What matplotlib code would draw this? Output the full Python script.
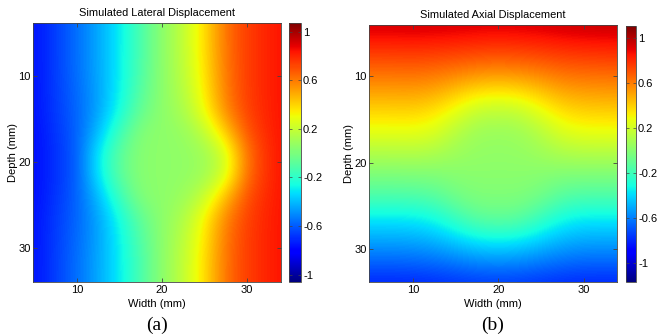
import numpy as np
import matplotlib
matplotlib.use("Agg")
import matplotlib.pyplot as plt

plt.rcParams['font.family'] = ['Liberation Sans', 'DejaVu Sans']
plt.rcParams['axes.unicode_minus'] = False

# grid nodes (mm)
width_mm = [5, 7.5, 10, 12.5, 15, 17.5, 20, 22.5, 25, 27.5, 30, 32.5, 35]
depth_mm = [4, 6.5, 9, 11.5, 14, 16.5, 19, 21.5, 24, 26.5, 29, 31.5, 34]

# Simulated lateral displacement (rows = depth, cols = width)
lateral = [
    [-0.76, -0.66, -0.56, -0.44, -0.30, -0.12, 0.05, 0.18, 0.37, 0.62, 0.74, 0.80, 0.85],
    [-0.76, -0.66, -0.56, -0.44, -0.30, -0.12, 0.05, 0.18, 0.37, 0.62, 0.74, 0.80, 0.85],
    [-0.76, -0.66, -0.56, -0.44, -0.30, -0.11, 0.05, 0.17, 0.36, 0.61, 0.74, 0.80, 0.85],
    [-0.76, -0.665, -0.57, -0.45, -0.29, -0.09, 0.05, 0.15, 0.34, 0.60, 0.74, 0.80, 0.85],
    [-0.76, -0.67, -0.58, -0.45, -0.26, -0.05, 0.05, 0.12, 0.30, 0.57, 0.73, 0.80, 0.85],
    [-0.77, -0.68, -0.59, -0.40, -0.15, 0.03, 0.05, 0.07, 0.17, 0.42, 0.69, 0.79, 0.85],
    [-0.77, -0.69, -0.60, -0.30, -0.07, 0.04, 0.05, 0.06, 0.09, 0.22, 0.62, 0.78, 0.85],
    [-0.77, -0.69, -0.60, -0.31, -0.07, 0.04, 0.05, 0.06, 0.09, 0.23, 0.63, 0.78, 0.85],
    [-0.77, -0.68, -0.59, -0.40, -0.16, 0.03, 0.05, 0.08, 0.19, 0.45, 0.70, 0.79, 0.85],
    [-0.76, -0.67, -0.58, -0.45, -0.26, -0.06, 0.05, 0.13, 0.32, 0.58, 0.73, 0.80, 0.85],
    [-0.76, -0.665, -0.57, -0.45, -0.29, -0.10, 0.05, 0.16, 0.35, 0.61, 0.74, 0.80, 0.85],
    [-0.76, -0.66, -0.56, -0.44, -0.30, -0.12, 0.05, 0.18, 0.37, 0.62, 0.74, 0.80, 0.85],
    [-0.76, -0.66, -0.56, -0.44, -0.30, -0.12, 0.05, 0.18, 0.37, 0.62, 0.74, 0.80, 0.85],
]

# Simulated axial displacement
axial = [
    [0.95, 0.95, 0.955, 0.95, 0.945, 0.935, 0.93, 0.935, 0.945, 0.96, 0.97, 0.975, 0.98],
    [0.81, 0.81, 0.815, 0.81, 0.80, 0.79, 0.78, 0.79, 0.80, 0.82, 0.83, 0.835, 0.84],
    [0.67, 0.67, 0.675, 0.665, 0.645, 0.62, 0.61, 0.62, 0.645, 0.675, 0.685, 0.69, 0.695],
    [0.53, 0.53, 0.535, 0.515, 0.45, 0.39, 0.37, 0.39, 0.45, 0.52, 0.54, 0.545, 0.55],
    [0.39, 0.39, 0.395, 0.36, 0.27, 0.17, 0.15, 0.17, 0.27, 0.365, 0.40, 0.405, 0.41],
    [0.26, 0.26, 0.265, 0.235, 0.13, 0.06, 0.05, 0.06, 0.13, 0.235, 0.27, 0.27, 0.275],
    [0.11, 0.11, 0.115, 0.10, 0.06, 0.035, 0.03, 0.035, 0.06, 0.10, 0.115, 0.115, 0.115],
    [-0.03, -0.03, -0.025, -0.02, 0.00, 0.01, 0.01, 0.01, 0.00, -0.02, -0.025, -0.025, -0.025],
    [-0.17, -0.17, -0.165, -0.14, -0.06, -0.02, -0.02, -0.02, -0.06, -0.14, -0.165, -0.165, -0.165],
    [-0.365, -0.365, -0.36, -0.32, -0.22, -0.12, -0.10, -0.12, -0.22, -0.32, -0.36, -0.36, -0.36],
    [-0.51, -0.51, -0.505, -0.48, -0.42, -0.36, -0.34, -0.36, -0.42, -0.48, -0.505, -0.505, -0.505],
    [-0.66, -0.66, -0.655, -0.64, -0.61, -0.58, -0.57, -0.58, -0.61, -0.64, -0.655, -0.655, -0.655],
    [-0.81, -0.81, -0.805, -0.795, -0.78, -0.765, -0.76, -0.765, -0.78, -0.795, -0.805, -0.805, -0.805],
]

titles = ["Simulated Lateral Displacement", "Simulated Axial Displacement"]
panel_labels = ["(a)", "(b)"]
clims = [(-1.06, 1.07), (-1.17, 1.11)]
cbar_ticks = [-1, -0.6, -0.2, 0.2, 0.6, 1]
cbar_ticklabels = ["-1", "-0.6", "-0.2", "0.2", "0.6", "1"]
axis_ticks = [10, 20, 30]

W, H = 662, 335
fig = plt.figure(figsize=(W / 100, H / 100), dpi=100)

def frac(l, t, r, b):
    return [l / W, 1 - b / H, (r - l) / W, (b - t) / H]

ax_boxes = [frac(33, 23, 281, 282), frac(369, 25, 617, 282)]
cb_boxes = [frac(289, 23, 301, 282), frac(626, 26, 636, 282)]
xlims = [(4.8, 34.0), (4.85, 33.9)]
ylims = [(34.0, 3.8), (33.8, 4.1)]

x = np.array(width_mm)
y = np.array(depth_mm)
dx = x[1] - x[0]
dy = y[1] - y[0]
extent = [x[0] - dx / 2, x[-1] + dx / 2, y[-1] + dy / 2, y[0] - dy / 2]

frame_col = '#444444'
for i, data in enumerate([lateral, axial]):
    ax = fig.add_axes(ax_boxes[i])
    im = ax.imshow(np.array(data), cmap='jet', vmin=clims[i][0], vmax=clims[i][1],
                   extent=extent, origin='upper', interpolation='bicubic', aspect='auto')
    ax.set_xlim(*xlims[i])
    ax.set_ylim(*ylims[i])
    ax.set_xticks(axis_ticks)
    ax.set_yticks(axis_ticks)
    ax.tick_params(direction='in', length=3, width=0.6, labelsize=8, pad=2.5,
                   top=True, right=True, color=frame_col)
    ax.tick_params(axis='y', pad=1.5)
    for s in ax.spines.values():
        s.set_linewidth(0.6)
        s.set_color(frame_col)
    ax.set_title(titles[i], fontsize=7.9, pad=5)
    ax.set_xlabel("Width (mm)", fontsize=8, labelpad=2.5)
    ax.set_ylabel("Depth (mm)", fontsize=8, labelpad=0.5)
    ax.text(0.5, -0.135, panel_labels[i], transform=ax.transAxes, ha='center', va='top',
            fontsize=14, family=['Liberation Serif', 'DejaVu Serif'])

    cax = fig.add_axes(cb_boxes[i])
    cb = fig.colorbar(im, cax=cax, orientation='vertical')
    cb.set_ticks(cbar_ticks)
    cb.set_ticklabels(cbar_ticklabels)
    cax.tick_params(direction='in', length=2, width=0.5, labelsize=8, pad=1.5,
                    left=True, right=True, color=frame_col)
    cb.outline.set_linewidth(0.6)
    cb.outline.set_edgecolor(frame_col)

fig.savefig("out.png", dpi=100)
